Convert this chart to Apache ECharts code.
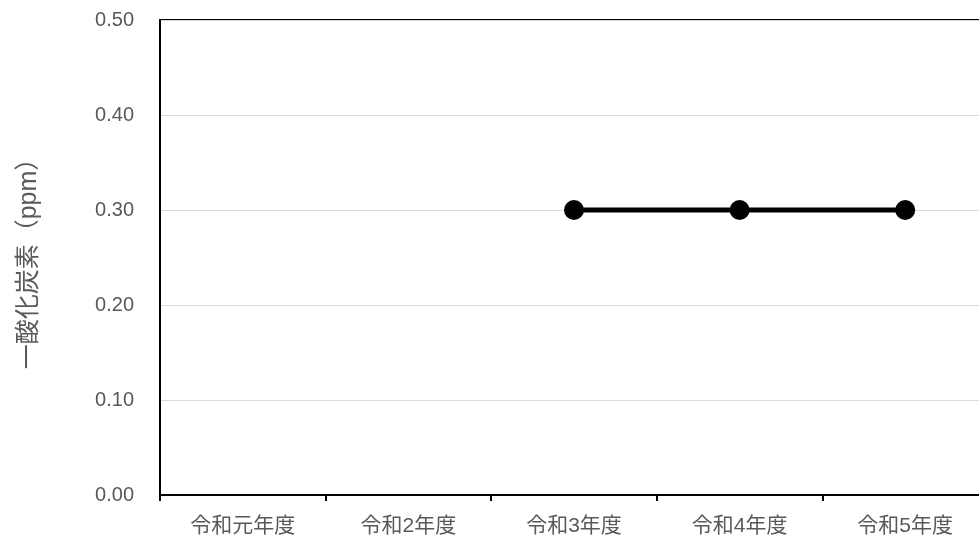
<!DOCTYPE html>
<html>
<head>
<meta charset="utf-8">
<script src="https://cdn.jsdelivr.net/npm/echarts@6/dist/echarts.min.js"></script>
<style>
  html, body { margin: 0; padding: 0; background: #fff; }
  #main { width: 979px; height: 540px; }
</style>
</head>
<body>
<div id="main"></div>
<script>
let categories = ['令和元年度', '令和2年度', '令和3年度', '令和4年度', '令和5年度'];
let coValues = [null, null, 0.30, 0.30, 0.30];
let yTicks = { min: 0, max: 0.5, interval: 0.1 };

let font = '"Liberation Sans", "Noto Sans CJK JP", sans-serif';
let chart = echarts.init(document.getElementById('main'));

let option = {
    animation: false,
    grid: {
        left: 160,
        width: 828,
        top: 20,
        bottom: 45,
        containLabel: false,
        outerBoundsMode: 'none',
        show: true,
        borderColor: '#000',
        borderWidth: 2,
        backgroundColor: 'transparent'
    },
    xAxis: {
        type: 'category',
        data: categories,
        boundaryGap: true,
        axisLine: { lineStyle: { color: '#000', width: 2 } },
        axisTick: { show: true, length: 6, lineStyle: { color: '#000', width: 2 } },
        axisLabel: { color: '#595959', fontSize: 21, fontFamily: font, margin: 21 }
    },
    yAxis: {
        type: 'value',
        min: yTicks.min,
        max: yTicks.max,
        interval: yTicks.interval,
        name: '一酸化炭素（ppm）',
        nameLocation: 'middle',
        nameGap: 118,
        nameRotate: 90,
        nameTextStyle: { color: '#595959', fontSize: 25, fontFamily: font },
        axisLine: { show: true, lineStyle: { color: '#000', width: 2 } },
        axisTick: { show: false },
        axisLabel: {
            color: '#595959',
            fontSize: 20,
            fontFamily: font,
            margin: 26,
            formatter: function (v) { return v.toFixed(2); }
        },
        splitLine: { show: true, lineStyle: { color: '#d9d9d9', width: 1 } }
    },
    series: [{
        name: '一酸化炭素',
        type: 'line',
        data: coValues,
        symbol: 'circle',
        symbolSize: 20,
        lineStyle: { color: '#000', width: 5 },
        itemStyle: { color: '#000' },
        connectNulls: false
    }]
};
chart.setOption(option);
</script>
</body>
</html>
